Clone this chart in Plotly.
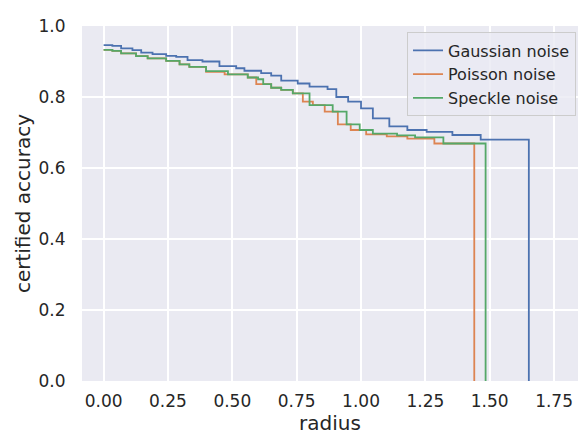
import plotly.graph_objects as go

# Gaussian noise
gauss_r = [0.0, 0.034, 0.068, 0.112, 0.146, 0.19, 0.243, 0.282, 0.326, 0.384, 0.45, 0.515,
           0.547, 0.612, 0.651, 0.69, 0.754, 0.8, 0.87, 0.904, 0.95, 1.0, 1.046, 1.11, 1.18,
           1.255, 1.355, 1.465, 1.645, 1.652]
gauss_acc = [0.946, 0.944, 0.937, 0.932, 0.925, 0.921, 0.916, 0.913, 0.904, 0.9, 0.887, 0.881,
             0.874, 0.867, 0.86, 0.846, 0.838, 0.829, 0.822, 0.8, 0.787, 0.768, 0.74, 0.717, 0.707,
             0.702, 0.693, 0.68, 0.68, 0.0]

# Poisson noise
poisson_r = [0.0, 0.034, 0.068, 0.126, 0.171, 0.243, 0.295, 0.333, 0.398, 0.47, 0.56, 0.593,
             0.651, 0.69, 0.735, 0.774, 0.813, 0.859, 0.91, 0.96, 1.02, 1.1, 1.18, 1.285, 1.432, 1.44]
poisson_acc = [0.933, 0.930, 0.923, 0.915, 0.909, 0.902, 0.892, 0.885, 0.871, 0.864, 0.855, 0.836,
               0.826, 0.82, 0.81, 0.787, 0.777, 0.759, 0.723, 0.707, 0.695, 0.689, 0.683, 0.669, 0.669, 0.0]

# Speckle noise
speckle_r = [0.0, 0.034, 0.068, 0.126, 0.171, 0.243, 0.295, 0.333, 0.398, 0.483, 0.56, 0.6,
             0.62, 0.651, 0.69, 0.735, 0.8, 0.89, 0.944, 0.995, 1.046, 1.14, 1.21, 1.32, 1.476, 1.484]
speckle_acc = [0.933, 0.930, 0.923, 0.915, 0.909, 0.902, 0.892, 0.885, 0.873, 0.864, 0.855, 0.85,
               0.836, 0.826, 0.82, 0.81, 0.777, 0.759, 0.723, 0.707, 0.697, 0.692, 0.686, 0.669, 0.669, 0.0]

series = [
    ("Gaussian noise", gauss_r, gauss_acc, "#4C72B0"),
    ("Poisson noise", poisson_r, poisson_acc, "#DD8452"),
    ("Speckle noise", speckle_r, speckle_acc, "#55A868"),
]

x_ticks = [0.0, 0.25, 0.5, 0.75, 1.0, 1.25, 1.5, 1.75]
y_ticks = [0.0, 0.2, 0.4, 0.6, 0.8, 1.0]

fig = go.Figure()
for name, r, acc, color in series:
    fig.add_trace(go.Scatter(x=r, y=acc, mode="lines", name=name,
                             line=dict(color=color, width=1.8, shape="hv")))

font_color = "#262626"
fig.update_layout(
    width=578, height=435,
    margin=dict(l=82, r=0, t=26, b=54),
    paper_bgcolor="white",
    plot_bgcolor="#EAEAF2",
    font=dict(family="DejaVu Sans", color=font_color, size=17),
    showlegend=True,
    legend=dict(x=0.996, y=0.982, xanchor="right", yanchor="top",
                bgcolor="rgba(234,234,242,0.8)", bordercolor="#CCCCCC", borderwidth=1,
                font=dict(size=16, color=font_color)),
    xaxis=dict(range=[-0.084, 1.843], tickvals=x_ticks, tickformat=".2f",
               showgrid=True, gridcolor="white", gridwidth=1.5, zeroline=False,
               ticks="outside", ticklen=5, tickcolor="rgba(0,0,0,0)",
               tickfont=dict(size=17),
               title=dict(text="radius", font=dict(size=20), standoff=6)),
    yaxis=dict(range=[0, 1], tickvals=y_ticks, tickformat=".1f",
               showgrid=True, gridcolor="white", gridwidth=1.5, zeroline=False,
               ticks="outside", ticklen=12, tickcolor="rgba(0,0,0,0)",
               tickfont=dict(size=17),
               title=dict(text="certified accuracy", font=dict(size=20), standoff=2)),
)

fig.write_html("out.html", config={"displayModeBar": False},
               post_script="document.body.style.margin='0';document.body.style.overflow='hidden';")
